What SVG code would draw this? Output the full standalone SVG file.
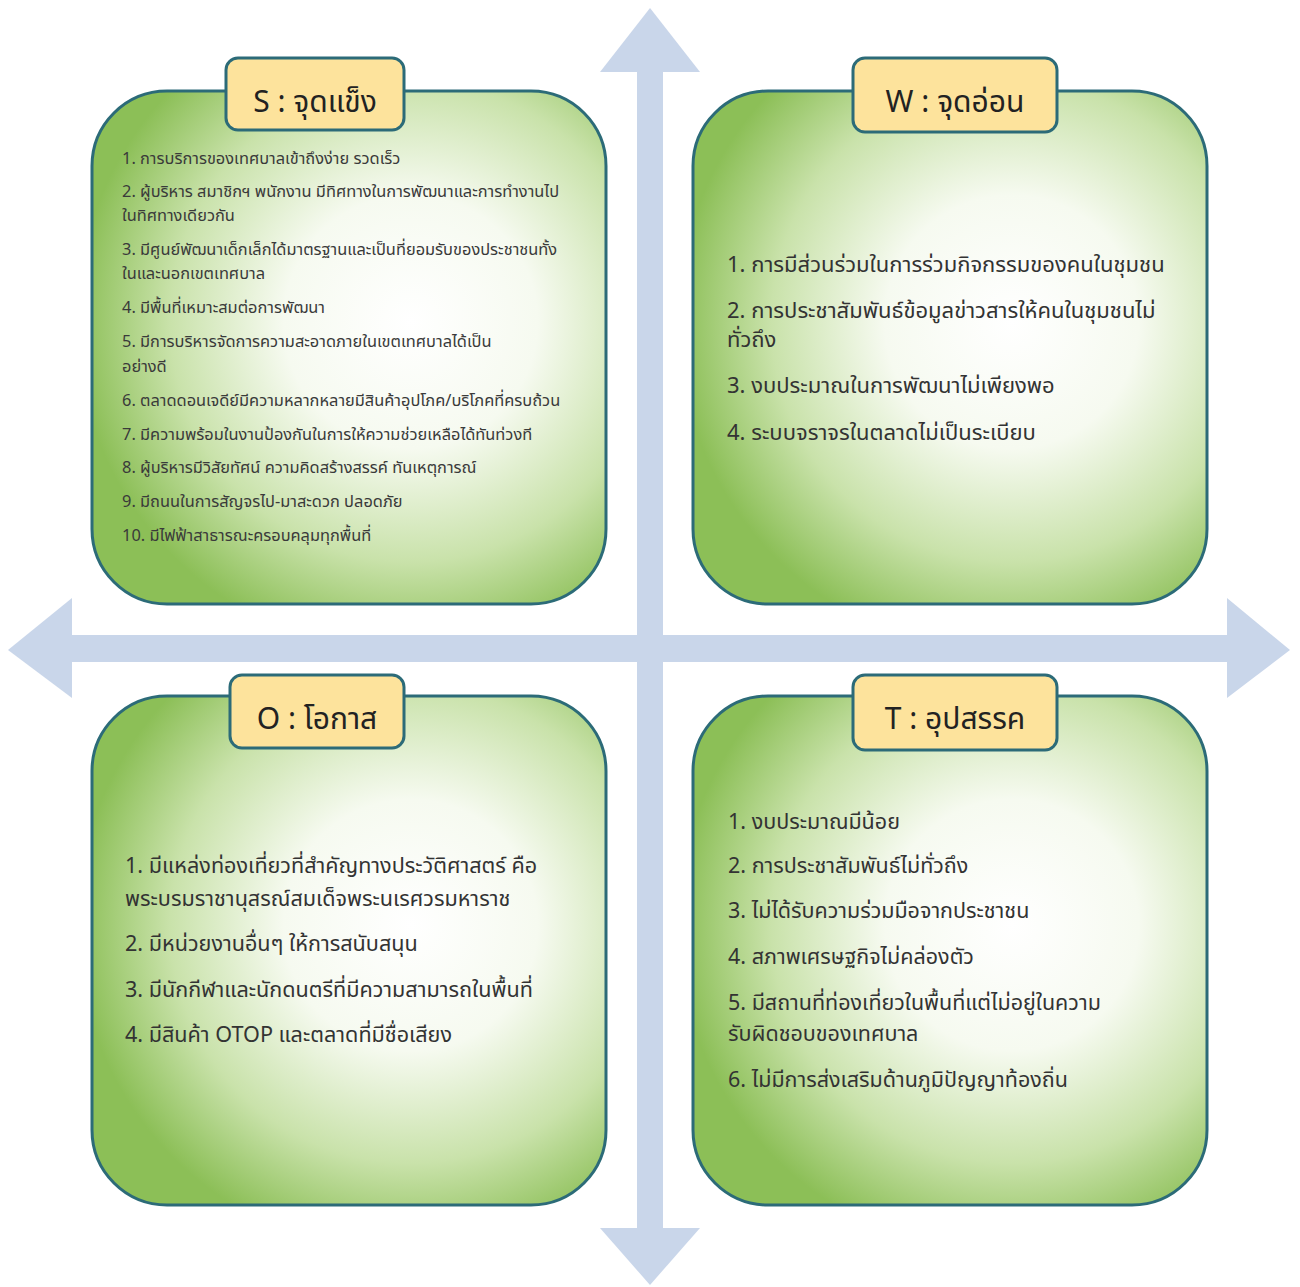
<svg xmlns="http://www.w3.org/2000/svg" width="1300" height="1287" viewBox="0 0 1300 1287">
<defs>
<radialGradient id="g" cx="0.62" cy="0.45" r="0.65">
<stop offset="0" stop-color="#ffffff"/>
<stop offset="0.38" stop-color="#f6faf0"/>
<stop offset="0.72" stop-color="#c9e2aa"/>
<stop offset="1" stop-color="#8cbf57"/>
</radialGradient>
</defs>
<style>
.box{fill:url(#g);stroke:#2c6b78;stroke-width:3}
.lab{fill:#fde39c;stroke:#2c6b78;stroke-width:3}
.ax{fill:#c9d6ea}
.tt{font-family:"Noto Sans","Noto Sans Thai","Liberation Sans",sans-serif;font-size:30px;fill:#222;text-anchor:middle}
.s{font-family:"Noto Sans","Noto Sans Thai","Liberation Sans",sans-serif;font-size:16.4px;fill:#3a3a3a}
.w{font-family:"Noto Sans","Noto Sans Thai","Liberation Sans",sans-serif;font-size:22px;fill:#333}
.o{font-family:"Noto Sans","Noto Sans Thai","Liberation Sans",sans-serif;font-size:21.6px;fill:#333}
.t{font-family:"Noto Sans","Noto Sans Thai","Liberation Sans",sans-serif;font-size:21.5px;fill:#333}
</style>
<rect width="1300" height="1287" fill="#ffffff"/>
<g id="connectors">
<rect class="ax" x="637" y="70" width="26" height="1160"/>
<rect class="ax" x="70" y="635" width="1160" height="27"/>
<polygon class="ax" points="650,8 700,72 600,72"/>
<polygon class="ax" points="650,1285 700,1228 600,1228"/>
<polygon class="ax" points="8,650 72,598 72,698"/>
<polygon class="ax" points="1290,650 1227,598 1227,698"/>
</g>
<g id="S">
<rect class="box" x="92" y="91" width="514" height="513" rx="75"/>
<rect class="lab" x="226" y="58" width="178" height="72" rx="12"/>
<text class="tt" x="315" y="112">S : จุดแข็ง</text>
<text class="s" x="122" y="164">1. การบริการของเทศบาลเข้าถึงง่าย รวดเร็ว</text>
<text class="s" x="122" y="197">2. ผู้บริหาร สมาชิกฯ พนักงาน มีทิศทางในการพัฒนาและการทำงานไป</text>
<text class="s" x="122" y="221">ในทิศทางเดียวกัน</text>
<text class="s" x="122" y="255">3. มีศูนย์พัฒนาเด็กเล็กได้มาตรฐานและเป็นที่ยอมรับของประชาชนทั้ง</text>
<text class="s" x="122" y="279">ในและนอกเขตเทศบาล</text>
<text class="s" x="122" y="313">4. มีพื้นที่เหมาะสมต่อการพัฒนา</text>
<text class="s" x="122" y="347">5. มีการบริหารจัดการความสะอาดภายในเขตเทศบาลได้เป็น</text>
<text class="s" x="122" y="372">อย่างดี</text>
<text class="s" x="122" y="406">6. ตลาดดอนเจดีย์มีความหลากหลายมีสินค้าอุปโภค/บริโภคที่ครบถ้วน</text>
<text class="s" x="122" y="440">7. มีความพร้อมในงานป้องกันในการให้ความช่วยเหลือได้ทันท่วงที</text>
<text class="s" x="122" y="473">8. ผู้บริหารมีวิสัยทัศน์ ความคิดสร้างสรรค์ ทันเหตุการณ์</text>
<text class="s" x="122" y="507">9. มีถนนในการสัญจรไป-มาสะดวก ปลอดภัย</text>
<text class="s" x="122" y="541">10. มีไฟฟ้าสาธารณะครอบคลุมทุกพื้นที่</text>
</g>
<g id="W">
<rect class="box" x="693" y="91" width="514" height="513" rx="75"/>
<rect class="lab" x="853" y="58" width="204" height="74" rx="12"/>
<text class="tt" x="955" y="112">W : จุดอ่อน</text>
<text class="w" x="727" y="272">1. การมีส่วนร่วมในการร่วมกิจกรรมของคนในชุมชน</text>
<text class="w" x="727" y="318">2. การประชาสัมพันธ์ข้อมูลข่าวสารให้คนในชุมชนไม่</text>
<text class="w" x="727" y="347">ทั่วถึง</text>
<text class="w" x="727" y="393">3. งบประมาณในการพัฒนาไม่เพียงพอ</text>
<text class="w" x="727" y="440">4. ระบบจราจรในตลาดไม่เป็นระเบียบ</text>
</g>
<g id="O">
<rect class="box" x="92" y="696" width="514" height="509" rx="75"/>
<rect class="lab" x="230" y="675" width="174" height="73" rx="12"/>
<text class="tt" x="317" y="729">O : โอกาส</text>
<text class="o" x="125" y="873">1. มีแหล่งท่องเที่ยวที่สำคัญทางประวัติศาสตร์ คือ</text>
<text class="o" x="125" y="906">พระบรมราชานุสรณ์สมเด็จพระนเรศวรมหาราช</text>
<text class="o" x="125" y="951">2. มีหน่วยงานอื่นๆ ให้การสนับสนุน</text>
<text class="o" x="125" y="997">3. มีนักกีฬาและนักดนตรีที่มีความสามารถในพื้นที่</text>
<text class="o" x="125" y="1042">4. มีสินค้า OTOP และตลาดที่มีชื่อเสียง</text>
</g>
<g id="T">
<rect class="box" x="693" y="696" width="514" height="509" rx="75"/>
<rect class="lab" x="853" y="675" width="204" height="75" rx="12"/>
<text class="tt" x="955" y="729">T : อุปสรรค</text>
<text class="t" x="728" y="829">1. งบประมาณมีน้อย</text>
<text class="t" x="728" y="873">2. การประชาสัมพันธ์ไม่ทั่วถึง</text>
<text class="t" x="728" y="918">3. ไม่ได้รับความร่วมมือจากประชาชน</text>
<text class="t" x="728" y="964">4. สภาพเศรษฐกิจไม่คล่องตัว</text>
<text class="t" x="728" y="1010">5. มีสถานที่ท่องเที่ยวในพื้นที่แต่ไม่อยู่ในความ</text>
<text class="t" x="728" y="1041">รับผิดชอบของเทศบาล</text>
<text class="t" x="728" y="1087">6. ไม่มีการส่งเสริมด้านภูมิปัญญาท้องถิ่น</text>
</g>
</svg>
